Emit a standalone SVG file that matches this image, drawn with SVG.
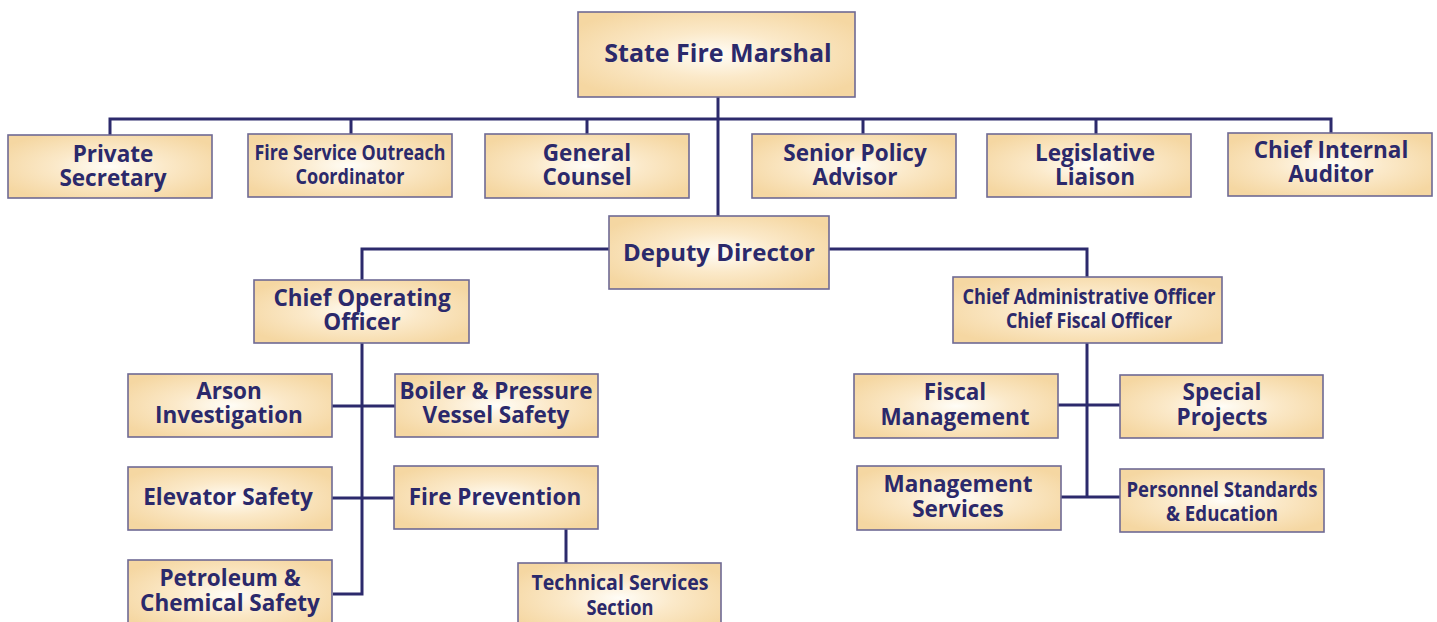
<svg xmlns="http://www.w3.org/2000/svg" width="1437" height="622" viewBox="0 0 1437 622">
<defs>
<radialGradient id="g" cx="0.5" cy="0.5" r="0.6">
<stop offset="0" stop-color="#fffdf7"/>
<stop offset="0.45" stop-color="#fbe9c9"/>
<stop offset="1" stop-color="#f5d7a2"/>
</radialGradient>
<style>
.b{fill:url(#g);stroke:#6f6a94;stroke-width:1.6}
.t{font-family:"Open Sans","Noto Sans",sans-serif;font-weight:bold;fill:#2b296b;text-anchor:middle;font-size:22.5px}
.c{font-size:21px}
.l{fill:none;stroke:#2c2a6c;stroke-width:3}
</style>
</defs>
<rect width="1437" height="622" fill="#ffffff"/>
<g id="connectors" class="l">
<path d="M718 97V216"/>
<path d="M110 135V119H1331V134"/>
<path d="M351 119V134M587 119V134M863 119V134M1096 119V134"/>
<path d="M609 249H362V280"/>
<path d="M829 249H1087V277"/>
<path d="M362 343V594H333"/>
<path d="M332 406H395M332 498H394"/>
<path d="M566 529V563"/>
<path d="M1087 343V497"/>
<path d="M1058 405H1120M1060 497H1120"/>
</g>
<g id="state-fire-marshal"><rect class="b" x="578" y="12" width="277" height="85"/><text class="t" x="718" y="62" style="font-size:25px">State Fire Marshal</text></g>
<g id="private-secretary"><rect class="b" x="8" y="135" width="204" height="63"/><text class="t" x="113" y="162">Private<tspan x="113" dy="24">Secretary</tspan></text></g>
<g id="fire-service-outreach"><rect class="b" x="248" y="134" width="204" height="63"/><text class="t c" x="350" y="160"><tspan textLength="191" lengthAdjust="spacingAndGlyphs">Fire Service Outreach</tspan><tspan x="350" dy="24" textLength="109" lengthAdjust="spacingAndGlyphs">Coordinator</tspan></text></g>
<g id="general-counsel"><rect class="b" x="485" y="134" width="204" height="64"/><text class="t" x="587" y="161">General<tspan x="587" dy="24">Counsel</tspan></text></g>
<g id="senior-policy-advisor"><rect class="b" x="752" y="134" width="204" height="64"/><text class="t" x="855" y="161">Senior Policy<tspan x="855" dy="24">Advisor</tspan></text></g>
<g id="legislative-liaison"><rect class="b" x="987" y="134" width="204" height="63"/><text class="t" x="1095" y="161">Legislative<tspan x="1095" dy="24">Liaison</tspan></text></g>
<g id="chief-internal-auditor"><rect class="b" x="1228" y="133" width="204" height="63"/><text class="t" x="1331" y="158">Chief Internal<tspan x="1331" dy="24">Auditor</tspan></text></g>
<g id="deputy-director"><rect class="b" x="609" y="216" width="220" height="73"/><text class="t" x="719" y="261" style="font-size:24px">Deputy Director</text></g>
<g id="chief-operating-officer"><rect class="b" x="254" y="280" width="215" height="63"/><text class="t" x="362" y="306">Chief Operating<tspan x="362" dy="24">Officer</tspan></text></g>
<g id="chief-administrative-officer"><rect class="b" x="953" y="277" width="269" height="66"/><text class="t c" x="1089" y="304"><tspan textLength="253" lengthAdjust="spacingAndGlyphs">Chief Administrative Officer</tspan><tspan x="1089" dy="24" textLength="166" lengthAdjust="spacingAndGlyphs">Chief Fiscal Officer</tspan></text></g>
<g id="arson-investigation"><rect class="b" x="128" y="374" width="204" height="63"/><text class="t" x="229" y="399">Arson<tspan x="229" dy="24">Investigation</tspan></text></g>
<g id="boiler-pressure"><rect class="b" x="395" y="374" width="203" height="63"/><text class="t" x="496" y="399">Boiler &amp; Pressure<tspan x="496" dy="24">Vessel Safety</tspan></text></g>
<g id="elevator-safety"><rect class="b" x="128" y="467" width="204" height="63"/><text class="t" x="228" y="505">Elevator Safety</text></g>
<g id="fire-prevention"><rect class="b" x="394" y="466" width="204" height="63"/><text class="t" x="495" y="505">Fire Prevention</text></g>
<g id="petroleum-chemical"><rect class="b" x="128" y="560" width="204" height="70"/><text class="t" x="230" y="586">Petroleum &amp;<tspan x="230" dy="25">Chemical Safety</tspan></text></g>
<g id="technical-services"><rect class="b" x="518" y="563" width="203" height="70"/><text class="t c" x="620" y="590"><tspan textLength="177" lengthAdjust="spacingAndGlyphs">Technical Services</tspan><tspan x="620" dy="25" textLength="67" lengthAdjust="spacingAndGlyphs">Section</tspan></text></g>
<g id="fiscal-management"><rect class="b" x="854" y="374" width="204" height="64"/><text class="t" x="955" y="400">Fiscal<tspan x="955" dy="25">Management</tspan></text></g>
<g id="special-projects"><rect class="b" x="1120" y="375" width="203" height="63"/><text class="t" x="1222" y="400">Special<tspan x="1222" dy="25">Projects</tspan></text></g>
<g id="management-services"><rect class="b" x="857" y="466" width="204" height="64"/><text class="t" x="958" y="492">Management<tspan x="958" dy="25">Services</tspan></text></g>
<g id="personnel-standards"><rect class="b" x="1120" y="469" width="204" height="63"/><text class="t c" x="1222" y="497"><tspan textLength="191" lengthAdjust="spacingAndGlyphs">Personnel Standards</tspan><tspan x="1222" dy="24" textLength="112" lengthAdjust="spacingAndGlyphs">&amp; Education</tspan></text></g>
</svg>
